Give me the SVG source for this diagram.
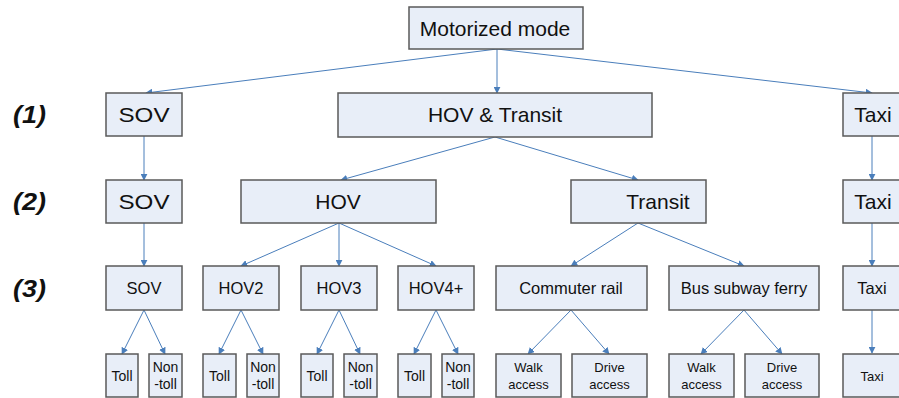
<svg xmlns="http://www.w3.org/2000/svg" width="899" height="398" viewBox="0 0 899 398">
  <defs>
    <marker id="arrow" viewBox="0 0 10 10" refX="9" refY="5" markerWidth="7" markerHeight="7" markerUnits="userSpaceOnUse" orient="auto">
      <path d="M0,0 L10,5 L0,10 z" fill="#4a7ebb"/>
    </marker>
    <style>
      .box { fill: #e8eef8; stroke: #5a5a5a; stroke-width: 1.5; }
      .t { font-family: "Liberation Sans", Arial, sans-serif; fill: #111; text-anchor: middle; dominant-baseline: central; }
      .l1 { font-size: 21px; }
      .l3 { font-size: 16.5px; }
      .l4 { font-size: 14px; }
      .l4s { font-size: 13px; }
      .lvl { font-family: "Liberation Sans", Arial, sans-serif; font-size: 23px; font-weight: bold; font-style: italic; fill: #111; dominant-baseline: central; }
      .edge { stroke: #4a7ebb; stroke-width: 1; fill: none; marker-end: url(#arrow); }
    </style>
  </defs>

  <rect width="899" height="398" fill="#ffffff"/>

  <!-- level labels -->
  <text class="lvl" x="13" y="115" textLength="33" lengthAdjust="spacingAndGlyphs">(1)</text>
  <text class="lvl" x="13" y="202" textLength="33" lengthAdjust="spacingAndGlyphs">(2)</text>
  <text class="lvl" x="13" y="289" textLength="33" lengthAdjust="spacingAndGlyphs">(3)</text>

  <g id="connectors">
    <line class="edge" x1="497" y1="49" x2="146" y2="93"/>
    <line class="edge" x1="497" y1="49" x2="497" y2="93"/>
    <line class="edge" x1="497" y1="49" x2="872" y2="93"/>
    <line class="edge" x1="144" y1="136" x2="144" y2="180"/>
    <line class="edge" x1="872" y1="136" x2="872" y2="180"/>
    <line class="edge" x1="495" y1="137" x2="341" y2="180"/>
    <line class="edge" x1="495" y1="137" x2="638" y2="180"/>
    <line class="edge" x1="144" y1="223" x2="144" y2="266"/>
    <line class="edge" x1="339" y1="223" x2="241" y2="266"/>
    <line class="edge" x1="339" y1="223" x2="339" y2="266"/>
    <line class="edge" x1="339" y1="223" x2="436" y2="266"/>
    <line class="edge" x1="638" y1="223" x2="571" y2="266"/>
    <line class="edge" x1="638" y1="223" x2="744" y2="266"/>
    <line class="edge" x1="872" y1="223" x2="872" y2="266"/>
    <line class="edge" x1="144" y1="310" x2="122" y2="354"/>
    <line class="edge" x1="144" y1="310" x2="165" y2="354"/>
    <line class="edge" x1="241" y1="310" x2="219" y2="354"/>
    <line class="edge" x1="241" y1="310" x2="263" y2="354"/>
    <line class="edge" x1="339" y1="310" x2="317" y2="354"/>
    <line class="edge" x1="339" y1="310" x2="360" y2="354"/>
    <line class="edge" x1="436" y1="310" x2="414" y2="354"/>
    <line class="edge" x1="436" y1="310" x2="458" y2="354"/>
    <line class="edge" x1="571" y1="310" x2="528" y2="354"/>
    <line class="edge" x1="571" y1="310" x2="609" y2="354"/>
    <line class="edge" x1="744" y1="310" x2="701" y2="354"/>
    <line class="edge" x1="744" y1="310" x2="782" y2="354"/>
    <line class="edge" x1="872" y1="310" x2="872" y2="353"/>
  </g>

  <!-- top -->
  <g id="motorized"><rect class="box" x="409" y="7" width="174" height="42"/><text class="t l1" x="495" y="28">Motorized mode</text></g>

  <!-- level 1 -->
  <g id="sov1"><rect class="box" x="106" y="93" width="76" height="43"/><text class="t l1" x="144" y="114" textLength="51" lengthAdjust="spacingAndGlyphs">SOV</text></g>
  <g id="hovtransit"><rect class="box" x="338" y="93" width="314" height="44"/><text class="t l1" x="495" y="114">HOV &amp; Transit</text></g>
  <g id="taxi1"><rect class="box" x="843" y="93" width="60" height="43"/><text class="t l1" x="873" y="114">Taxi</text></g>

  <!-- level 2 -->
  <g id="sov2"><rect class="box" x="106" y="180" width="76" height="43"/><text class="t l1" x="144" y="201" textLength="51" lengthAdjust="spacingAndGlyphs">SOV</text></g>
  <g id="hov"><rect class="box" x="241" y="180" width="195" height="43"/><text class="t l1" x="338" y="201">HOV</text></g>
  <g id="transit"><rect class="box" x="571" y="180" width="135" height="43"/><text class="t l1" x="658" y="201">Transit</text></g>
  <g id="taxi2"><rect class="box" x="843" y="180" width="60" height="43"/><text class="t l1" x="873" y="201">Taxi</text></g>

  <!-- level 3 -->
  <g id="sov3"><rect class="box" x="106" y="266" width="76" height="44"/><text class="t l3" x="144" y="288">SOV</text></g>
  <g id="hov2"><rect class="box" x="203" y="266" width="76" height="44"/><text class="t l3" x="241" y="288">HOV2</text></g>
  <g id="hov3"><rect class="box" x="301" y="266" width="76" height="44"/><text class="t l3" x="339" y="288">HOV3</text></g>
  <g id="hov4"><rect class="box" x="398" y="266" width="76" height="44"/><text class="t l3" x="436" y="288">HOV4+</text></g>
  <g id="commuter"><rect class="box" x="496" y="266" width="151" height="44"/><text class="t l3" x="571" y="288">Commuter rail</text></g>
  <g id="bsf"><rect class="box" x="669" y="266" width="150" height="44"/><text class="t l3" x="744" y="288">Bus subway ferry</text></g>
  <g id="taxi3"><rect class="box" x="843" y="266" width="60" height="44"/><text class="t l3" x="872" y="288">Taxi</text></g>

  <!-- level 4 -->
  <g id="sov-toll"><rect class="box" x="106" y="354" width="32" height="43"/><text class="t l4" x="122" y="376">Toll</text></g>
  <g id="sov-nontoll"><rect class="box" x="149" y="354" width="33" height="43"/><text class="t l4" x="165.5" y="367">Non</text><text class="t l4" x="165.5" y="384">-toll</text></g>
  <g id="hov2-toll"><rect class="box" x="203" y="354" width="33" height="43"/><text class="t l4" x="219.5" y="376">Toll</text></g>
  <g id="hov2-nontoll"><rect class="box" x="247" y="354" width="32" height="43"/><text class="t l4" x="263" y="367">Non</text><text class="t l4" x="263" y="384">-toll</text></g>
  <g id="hov3-toll"><rect class="box" x="301" y="354" width="32" height="43"/><text class="t l4" x="317" y="376">Toll</text></g>
  <g id="hov3-nontoll"><rect class="box" x="344" y="354" width="33" height="43"/><text class="t l4" x="360.5" y="367">Non</text><text class="t l4" x="360.5" y="384">-toll</text></g>
  <g id="hov4-toll"><rect class="box" x="398" y="354" width="33" height="43"/><text class="t l4" x="414.5" y="376">Toll</text></g>
  <g id="hov4-nontoll"><rect class="box" x="442" y="354" width="32" height="43"/><text class="t l4" x="458" y="367">Non</text><text class="t l4" x="458" y="384">-toll</text></g>
  <g id="cr-walk"><rect class="box" x="496" y="354" width="65" height="43"/><text class="t l4s" x="528.5" y="367">Walk</text><text class="t l4s" x="528.5" y="384">access</text></g>
  <g id="cr-drive"><rect class="box" x="572" y="354" width="75" height="43"/><text class="t l4s" x="609.5" y="367">Drive</text><text class="t l4s" x="609.5" y="384">access</text></g>
  <g id="bsf-walk"><rect class="box" x="669" y="354" width="65" height="43"/><text class="t l4s" x="701.5" y="367">Walk</text><text class="t l4s" x="701.5" y="384">access</text></g>
  <g id="bsf-drive"><rect class="box" x="745" y="354" width="74" height="43"/><text class="t l4s" x="782" y="367">Drive</text><text class="t l4s" x="782" y="384">access</text></g>
  <g id="taxi4"><rect class="box" x="843" y="354" width="60" height="43"/><text class="t l4s" x="872" y="376">Taxi</text></g>
</svg>
